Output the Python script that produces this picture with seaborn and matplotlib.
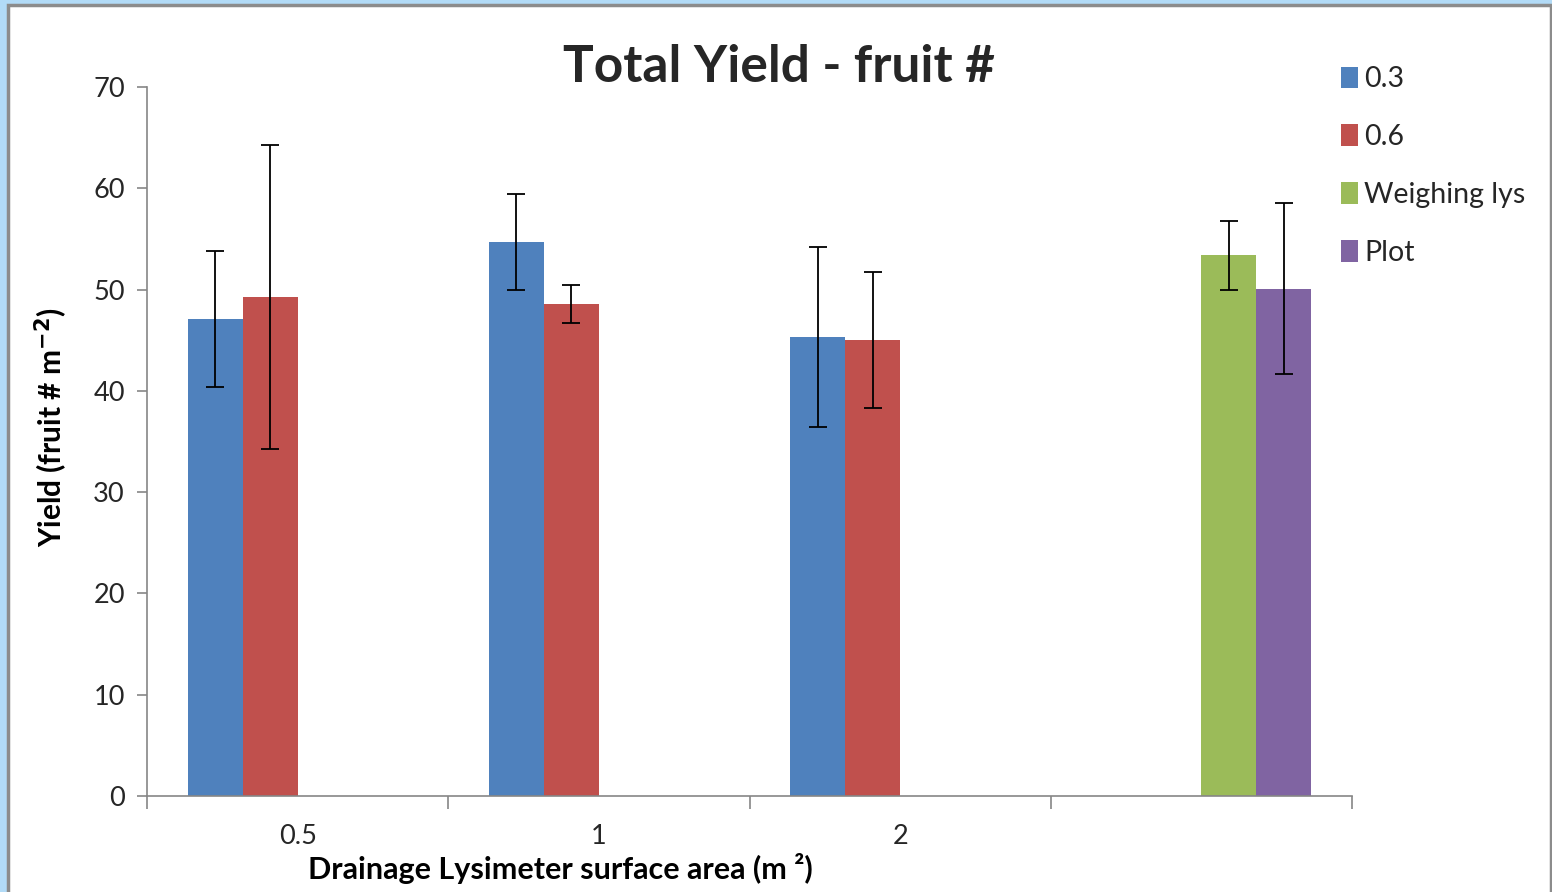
import pandas as pd
import seaborn as sns
import matplotlib.pyplot as plt
from matplotlib.patches import Rectangle

areas = ['0.5', '1', '2', ' ']
series = ['0.3', '0.6', 'Weighing lys', 'Plot']

# present bars only: (area, series, mean, error)
bar_area = ['0.5', '0.5', '1', '1', '2', '2', ' ', ' ']
bar_series = ['0.3', '0.6', '0.3', '0.6', '0.3', '0.6', 'Weighing lys', 'Plot']
yield_mean = [47.1, 49.3, 54.7, 48.6, 45.3, 45.0, 53.4, 50.1]
yield_err = [6.7, 15.0, 4.7, 1.9, 8.9, 6.7, 3.4, 8.4]

colors = ['#4F81BD', '#C0504D', '#9BBB59', '#8064A2']

df = pd.DataFrame({'Area': bar_area, 'Series': bar_series,
                   'Yield': yield_mean, 'Err': yield_err})

sns.set_style('white')
plt.rcParams['font.family'] = ['Lato', 'DejaVu Sans']

fig = plt.figure(figsize=(15.52, 8.92), dpi=100)
fig.patch.set_facecolor('#B2DBF7')
fig.patches.append(Rectangle((8 / 1552, -0.05), 1543 / 1552, 1.05 - 5 / 892,
                             transform=fig.transFigure, facecolor='white',
                             edgecolor='#8C8C8C', linewidth=2.5, zorder=-10))

ax = fig.add_axes([147 / 1552, 96 / 892, 1205 / 1552, 709 / 892])
sns.barplot(data=df, x='Area', y='Yield', hue='Series', order=areas,
            hue_order=series, palette=colors, width=0.73, gap=0,
            errorbar=None, saturation=1, linewidth=0, ax=ax, legend=True)

# error bars on top of each bar
err_lookup = {(a, s): e for a, s, e in zip(bar_area, bar_series, yield_err)}
for s, cont in zip(series, ax.containers):
    for p in cont:
        h = p.get_height()
        if pd.isna(h):
            continue
        xc = p.get_x() + p.get_width() / 2
        a = areas[int(round(xc))]
        e = err_lookup.get((a, s))
        if e is None:
            continue
        ax.errorbar(xc, h, yerr=e, color='black', linewidth=1.3,
                    capsize=6.5, capthick=1.3, zorder=5)

ax.set_ylim(0, 70)
ax.set_xlim(-0.5, 3.5)
ax.set_yticks(range(0, 71, 10))
ax.set_xticks([-0.5, 0.5, 1.5, 2.5, 3.5])
ax.set_xticklabels([])
ax.set_xticks(range(len(areas)), minor=True)
ax.set_xticklabels(areas, minor=True)
ax.tick_params(axis='x', which='major', direction='out', length=9, width=1.2,
               color='#868686', bottom=True)
ax.tick_params(axis='x', which='minor', length=0, pad=20, labelsize=19.5,
               labelcolor='#262626')
ax.tick_params(axis='y', direction='out', length=7, width=1.2,
               color='#868686', left=True, labelsize=19.5, labelcolor='#262626', pad=9)

for side in ['top', 'right']:
    ax.spines[side].set_visible(False)
for side in ['left', 'bottom']:
    ax.spines[side].set_color('#868686')
    ax.spines[side].set_linewidth(1.2)

ax.set_xlabel('Drainage Lysimeter surface area (m \u00b2)', fontsize=22,
              fontweight='bold', color='black')
ax.xaxis.set_label_coords(0.343, -0.08)
ax.set_ylabel(r'Yield (fruit # m$^{\mathbf{-2}}$)', fontsize=21.5,
              fontweight='bold', color='black')
ax.yaxis.set_label_coords(-0.064, 0.52)
fig.suptitle('Total Yield - fruit #', fontsize=37, fontweight='bold',
             x=779 / 1552, y=1 - 68 / 892, va='center')

handles, labels = ax.get_legend_handles_labels()
ax.get_legend().remove()
fig.legend(handles, labels, loc='upper left', bbox_to_anchor=(1330 / 1552, 1 - 55 / 892),
           frameon=False, fontsize=20.5, handlelength=0.6, handleheight=0.8,
           handletextpad=0.2, labelspacing=1.12, borderaxespad=0)

plt.savefig('out.png', dpi=100, facecolor=fig.get_facecolor())
